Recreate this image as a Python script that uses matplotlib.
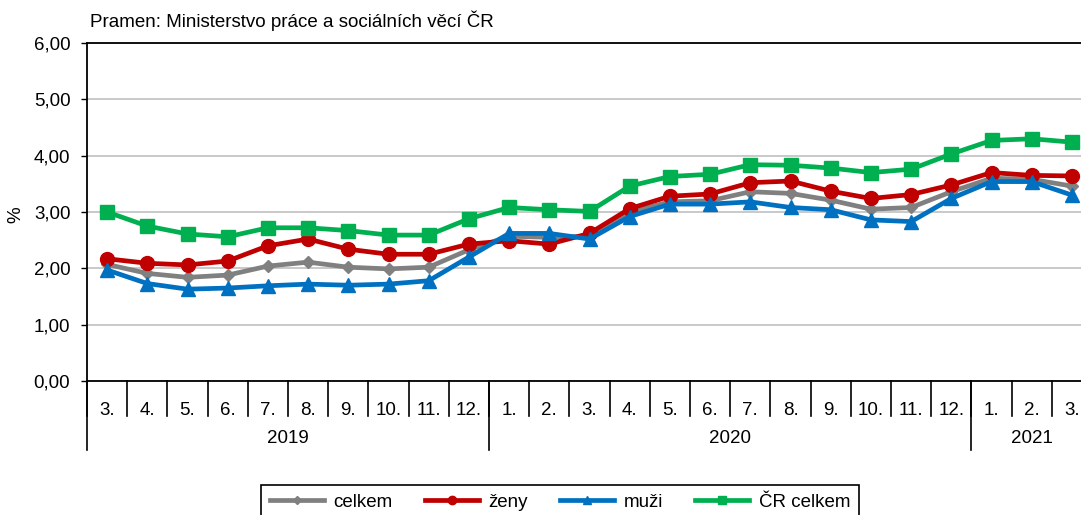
import matplotlib
matplotlib.use('Agg')
import matplotlib.pyplot as plt
from matplotlib.ticker import FuncFormatter

plt.rcParams['font.family'] = ['Liberation Sans', 'DejaVu Sans']

# Data (mira nezamestnanosti, %)
months = ['3.', '4.', '5.', '6.', '7.', '8.', '9.', '10.', '11.', '12.',
          '1.', '2.', '3.', '4.', '5.', '6.', '7.', '8.', '9.', '10.', '11.', '12.',
          '1.', '2.', '3.']
years = ['2019', '2020', '2021']
year_counts = [10, 12, 3]

celkem = [2.07, 1.91, 1.84, 1.88, 2.04, 2.11, 2.02, 1.99, 2.02, 2.33,
          2.57, 2.55, 2.57, 3.00, 3.18, 3.20, 3.36, 3.33, 3.21, 3.05, 3.08, 3.36,
          3.60, 3.58, 3.46]
zeny = [2.17, 2.09, 2.06, 2.13, 2.40, 2.52, 2.34, 2.25, 2.25, 2.43,
        2.49, 2.43, 2.62, 3.06, 3.28, 3.32, 3.52, 3.55, 3.37, 3.24, 3.31, 3.48,
        3.70, 3.65, 3.64]
muzi = [1.97, 1.73, 1.63, 1.65, 1.69, 1.72, 1.70, 1.72, 1.78, 2.20,
        2.62, 2.62, 2.52, 2.92, 3.14, 3.14, 3.18, 3.08, 3.04, 2.86, 2.83, 3.24,
        3.54, 3.54, 3.30]
cr_celkem = [3.00, 2.75, 2.61, 2.56, 2.72, 2.72, 2.67, 2.59, 2.59, 2.88,
             3.08, 3.04, 3.01, 3.46, 3.63, 3.67, 3.84, 3.83, 3.78, 3.70, 3.76, 4.03,
             4.27, 4.30, 4.24]

fs = 13.5

fig = plt.figure(figsize=(10.81, 5.15), dpi=100)
ax = fig.add_axes([0.0805, 0.2602, 0.9297, 0.6563])

x = list(range(len(months)))
ax.plot(x, celkem, color='#808080', lw=3.4, marker='D', ms=6.5, label='celkem', zorder=3)
ax.plot(x, zeny, color='#C00000', lw=3.4, marker='o', ms=10, label='ženy', zorder=4)
ax.plot(x, muzi, color='#0070C0', lw=3.4, marker='^', ms=9.5, label='muži', zorder=5)
ax.plot(x, cr_celkem, color='#00B050', lw=3.4, marker='s', ms=9.5, label='ČR celkem', zorder=6)

ax.set_xlim(-0.5, len(months) - 0.5)
ax.set_ylim(0, 6)
ax.set_yticks([0, 1, 2, 3, 4, 5, 6])
ax.yaxis.set_major_formatter(FuncFormatter(lambda v, p: f'{v:.2f}'.replace('.', ',')))
ax.grid(axis='y', color='#c0c0c0', lw=1.2)
ax.set_axisbelow(True)
ax.tick_params(axis='y', direction='out', length=4, width=1, labelsize=fs, pad=8)

ax.spines['right'].set_visible(False)
for s in ['left', 'bottom', 'top']:
    ax.spines[s].set_linewidth(1.3)

# kategorie osy x: mesice a roky
ax.set_xticks(x)
ax.set_xticklabels(months, fontsize=fs)
ax.tick_params(axis='x', length=0, pad=15)

tr = ax.get_xaxis_transform()
for i in range(len(months) + 1):
    ax.plot([i - 0.5, i - 0.5], [0, -0.104], transform=tr, color='black', lw=1.2, clip_on=False)

start = 0
for yr, n in zip(years, year_counts):
    ax.plot([start - 0.5, start - 0.5], [0, -0.204], transform=tr, color='black', lw=1.2, clip_on=False)
    ax.text(start + (n - 1) / 2, -0.169, yr, transform=tr, ha='center', va='center', fontsize=fs)
    start += n

fig.text(16 / 1081, 0.5825, '%', rotation=90, ha='center', va='center', fontsize=fs)
fig.text(0.083, 0.959, 'Pramen: Ministerstvo práce a sociálních věcí ČR', fontsize=fs, va='center')

leg = fig.legend(loc='upper center', bbox_to_anchor=(0.518, 0.058), ncol=4, fontsize=fs,
                 frameon=True, fancybox=False, edgecolor='black', framealpha=1,
                 handlelength=2.9, handletextpad=0.5, columnspacing=1.7,
                 borderpad=0.45, borderaxespad=0, markerscale=0.6)
leg.get_frame().set_linewidth(1.2)

fig.savefig('out.png', dpi=100)
